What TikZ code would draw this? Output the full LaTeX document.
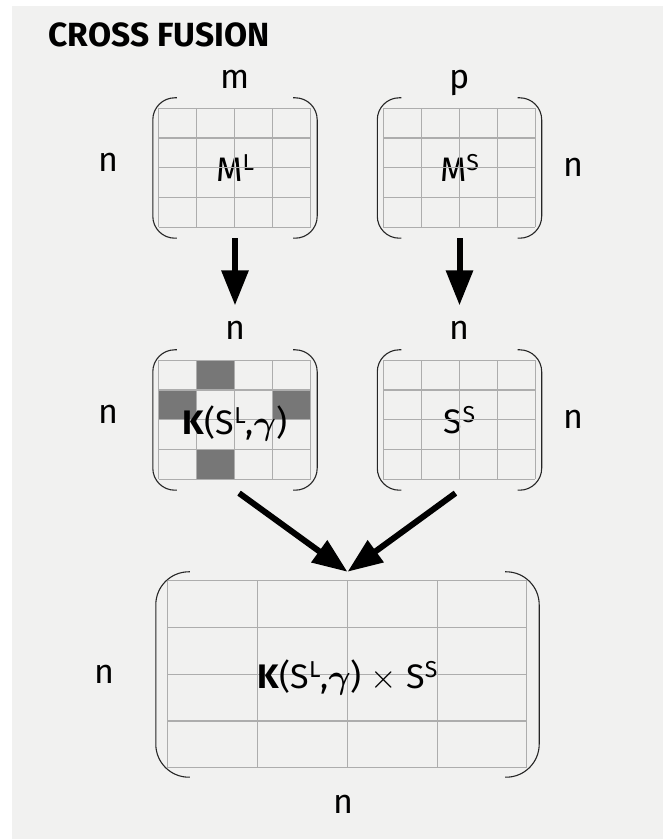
\RequirePackage{fix-cm}
\documentclass[tikz,border=0pt]{standalone}
\usepackage{fontspec}
\setmainfont{Fira Sans}
\usepackage{amsmath}
\usetikzlibrary{arrows.meta, positioning, calc}

\definecolor{panel}{HTML}{F1F1F0}
\definecolor{cellline}{HTML}{ADADAD}
\definecolor{cellmark}{HTML}{777777}

\newcommand{\bigtext}{\fontsize{34}{40}\selectfont}
\newcommand{\idx}[1]{\raisebox{11pt}{\fontsize{23}{26}\selectfont #1}}
\newcommand{\kgamma}{\textbf{K}(S\idx{L},{\boldmath$\gamma$})}

\begin{document}
\begin{tikzpicture}[x=1pt, y=1pt]

        % Define styles for the matrices and their labels
        \tikzstyle{mat} = [rectangle, minimum width=164pt, minimum height=140pt, inner sep=0pt, text depth=0pt, font=\bigtext]
        \tikzstyle{bigmat} = [mat, minimum width=383pt, minimum height=205pt]
        \tikzstyle{dim} = [inner sep=0pt, text height=18pt, text depth=0pt, font=\bigtext]
        \tikzstyle{cell} = [draw=cellline, line width=1.1pt]
        \tikzstyle{bracket} = [draw=black!85, line width=1.1pt]

        % Define arrow style
        \tikzstyle{arrow} = [line width=6pt, -{Triangle[length=35pt, width=26pt]}]

        \useasboundingbox (0,0) rectangle (663,839);
        \fill[panel] (12,0) rectangle (663,833);

        \node (title) [anchor=base west, font=\fontsize{33.5}{38}\selectfont\bfseries] at (45,792) {CROSS FUSION};

        % Matrices
        \node (ML) [mat] at (235,671) {M\idx{L}};
        \node (MS) [mat] at (459.5,671) {M\idx{S}};
        \node (KL) [mat] at (235,419) {};
        \node (SS) [mat] at (459.5,419) {S\idx{S}};
        \node (prod) [bigmat] at (347.5,164.5) {};

        % Marked cells of the kernel matrix
        \begin{scope}[shift={($(KL.north west)+(6,-10.5)$)}, x=38pt, y=-29.75pt]
            \foreach \c/\r in {1/0, 0/1, 3/1, 1/3}
                \fill[cellmark] (\c,\r) rectangle (\c+1,\r+1);
        \end{scope}

        % 4x4 cells inside every matrix
        \foreach \m/\dx/\dy/\w/\h in {ML/6/10.5/38/29.75, MS/6/10.5/38/29.75, KL/6/10.5/38/29.75, SS/6/10.5/38/29.75, prod/12/9/89.75/46.75} {
            \begin{scope}[shift={($(\m.north west)+(\dx,-\dy)$)}, x=\w pt, y=-\h pt]
                \foreach \k in {0,...,4} {
                    \draw[cell] (\k,0) -- (\k,4);
                    \draw[cell] (0,\k) -- (4,\k);
                }
            \end{scope}
        }

        % Brackets
        \foreach \m/\e/\r in {ML/24/22, MS/24/22, KL/24/22, SS/24/22, prod/34/33} {
            \draw[bracket, rounded corners=\r pt] ($(\m.north west)+(\e,0)$) -- (\m.north west) -- (\m.south west) -- ($(\m.south west)+(\e,0)$);
            \draw[bracket, rounded corners=\r pt] ($(\m.north east)+(-\e,0)$) -- (\m.north east) -- (\m.south east) -- ($(\m.south east)+(-\e,0)$);
        }

        % Texts on top of the cells
        \node (Ktext) [font=\bigtext, text depth=0pt, inner sep=0pt] at (KL) {\kgamma};
        \node (Ptext) [font=\bigtext, text depth=0pt, inner sep=0pt] at (prod) {\kgamma\ $\times$ S\idx{S}};

        % Dimension labels
        \node (mML) [dim, above=9pt of ML] {m};
        \node (pMS) [dim, above=9pt of MS] {p};
        \node (nML) [dim, left=34pt of ML, yshift=5pt] {n};
        \node (nMS) [dim, right=22pt of MS] {n};
        \node (nKtop) [dim, above=10pt of KL] {n};
        \node (nStop) [dim, above=10pt of SS] {n};
        \node (nKL) [dim, left=34pt of KL, yshift=5pt] {n};
        \node (nSS) [dim, right=22pt of SS] {n};
        \node (nPleft) [dim, left=41pt of prod] {n};
        \node (nPbot) [dim, below=18pt of prod, xshift=-4pt] {n};

        % Arrows
        \draw [arrow, shorten >=16pt] (ML.south) -- (nKtop.north);
        \draw [arrow, shorten >=16pt] (MS.south) -- (nStop.north);
        \draw [arrow, shorten <=5pt] (KL.south) -- (prod.north);
        \draw [arrow, shorten <=5pt] (SS.south) -- (prod.north);

\end{tikzpicture}
\end{document}
